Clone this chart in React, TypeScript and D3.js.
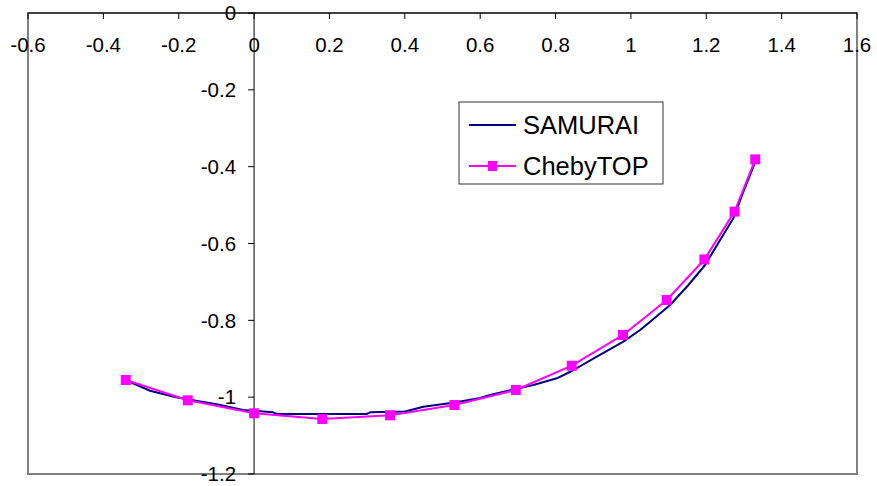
import React from 'react';
import * as d3 from 'd3';

// SAMURAI profile (dense)
const samuraiX = [-0.3405, -0.276, -0.2097, -0.1433, -0.099, -0.0292, 0.0504, 0.0602, 0.122, 0.299, 0.308, 0.4007, 0.4493, 0.5024, 0.5289, 0.5998, 0.6263, 0.6945, 0.7412, 0.8033, 0.8431, 0.9095, 0.98, 1.0244, 1.0464, 1.104, 1.1526, 1.1969, 1.2367, 1.272, 1.2985, 1.325, 1.3304];
const samuraiY = [-0.9553, -0.9832, -0.9996, -1.0113, -1.0186, -1.0334, -1.0394, -1.0438, -1.0438, -1.0438, -1.0394, -1.0373, -1.0248, -1.0178, -1.0144, -1.0022, -0.9944, -0.9787, -0.9683, -0.9509, -0.9319, -0.8947, -0.8556, -0.8252, -0.8077, -0.7601, -0.708, -0.656, -0.5909, -0.5344, -0.4652, -0.4001, -0.3808];

// ChebyTOP points (with markers)
const chebyX = [-0.3405, -0.176, 0.0, 0.181, 0.361, 0.5316, 0.6945, 0.843, 0.979, 1.095, 1.195, 1.275, 1.33];
const chebyY = [-0.9553, -1.0082, -1.042, -1.0568, -1.0472, -1.0204, -0.9813, -0.9181, -0.838, -0.747, -0.6416, -0.517, -0.381];

const xTicks = [-0.6, -0.4, -0.2, 0, 0.2, 0.4, 0.6, 0.8, 1, 1.2, 1.4, 1.6];
const yTicks = [0, -0.2, -0.4, -0.6, -0.8, -1, -1.2];
const seriesNames = ['SAMURAI', 'ChebyTOP'];

const W = 877;
const H = 486;
const left = 28, right = 857, top = 13, bottom = 474;

export default function App() {
  const x = d3.scaleLinear().domain([-0.6, 1.6]).range([left, right]);
  const y = d3.scaleLinear().domain([0, -1.2]).range([top, bottom]);
  const line = d3.line<[number, number]>().x(d => x(d[0])).y(d => y(d[1]));
  const samurai: [number, number][] = samuraiX.map((v, i) => [v, samuraiY[i]]);
  const cheby: [number, number][] = chebyX.map((v, i) => [v, chebyY[i]]);
  const font = '"Liberation Sans", Arial, sans-serif';
  const x0 = x(0);

  return (
    <svg width={W} height={H} style={{ position: 'absolute', left: 0, top: 0 }} fontFamily={font}>
      <rect x={0} y={0} width={W} height={H} fill="#fff" />
      {/* plot area border */}
      <rect x={left} y={top} width={right - left} height={bottom - top} fill="none" stroke="#808080" strokeWidth={2} />
      {/* x axis along top */}
      <line x1={left} x2={right} y1={top} y2={top} stroke="#000" strokeWidth={1} />
      {xTicks.map(t => (
        <g key={'x' + t}>
          <line x1={x(t)} x2={x(t)} y1={top} y2={top + 6} stroke="#000" />
          <text x={x(t)} y={52} fontSize={20.5} textAnchor="middle">{t}</text>
        </g>
      ))}
      {/* y axis at x = 0 */}
      <line x1={x0} x2={x0} y1={top} y2={bottom} stroke="#000" strokeWidth={1} />
      {yTicks.map(t => (
        <g key={'y' + t}>
          <line x1={x0 - 6} x2={x0} y1={y(t)} y2={y(t)} stroke="#000" />
          <text x={x0 - 18} y={y(t)} dy="0.35em" fontSize={20.5} textAnchor="end">{t}</text>
        </g>
      ))}
      {/* series */}
      <path d={line(samurai) || ''} fill="none" stroke="#000080" strokeWidth={2} strokeLinejoin="round" />
      <path d={line(cheby) || ''} fill="none" stroke="#FF00FF" strokeWidth={2} strokeLinejoin="round" />
      {cheby.map((d, i) => (
        <rect key={i} x={x(d[0]) - 5} y={y(d[1]) - 5} width={10} height={10} fill="#FF00FF" />
      ))}
      {/* legend */}
      <g>
        <rect x={459} y={102} width={204} height={82} fill="#fff" stroke="#333" strokeWidth={1} />
        <line x1={469} x2={516} y1={125} y2={125} stroke="#000080" strokeWidth={2} />
        <text x={523} y={125} dy="0.35em" fontSize={25.5}>{seriesNames[0]}</text>
        <line x1={469} x2={516} y1={166} y2={166} stroke="#FF00FF" strokeWidth={2} />
        <rect x={488} y={161} width={9} height={10} fill="#FF00FF" />
        <text x={523} y={166} dy="0.35em" fontSize={25.5}>{seriesNames[1]}</text>
      </g>
    </svg>
  );
}
